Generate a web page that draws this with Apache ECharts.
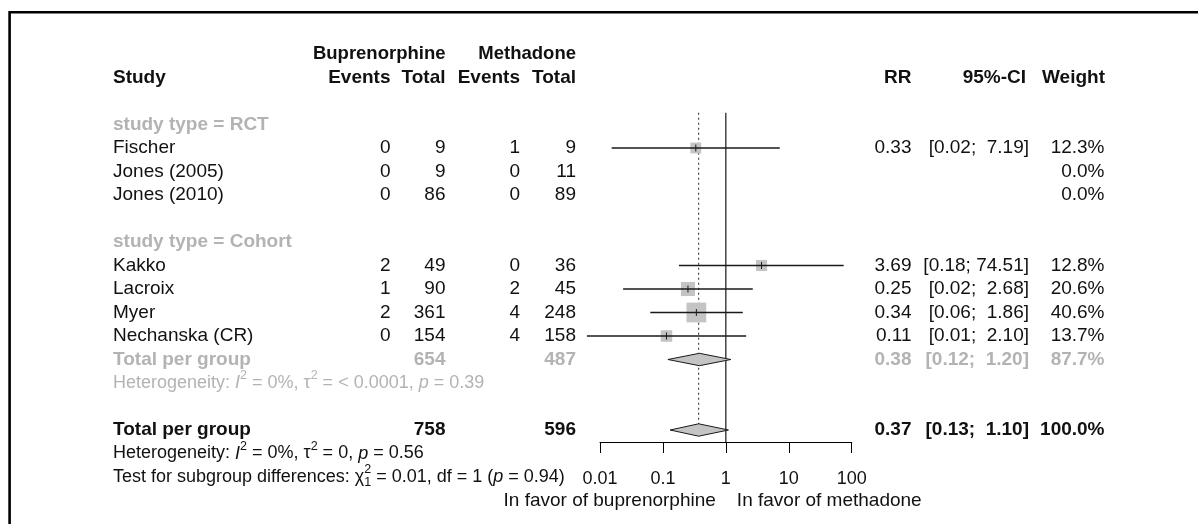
<!DOCTYPE html>
<html>
<head>
<meta charset="utf-8">
<script src="https://cdn.jsdelivr.net/npm/echarts@6/dist/echarts.min.js"></script>
<style>
  html, body { margin: 0; padding: 0; background: #ffffff; }
  #chart { width: 1198px; height: 524px; }
</style>
</head>
<body>
<div id="chart"></div>
<script>
// ---- Study-level data -------------------------------------------------
const studies    = ['Fischer', 'Jones (2005)', 'Jones (2010)', 'Kakko', 'Lacroix', 'Myer', 'Nechanska (CR)'];
const studyType  = ['RCT', 'RCT', 'RCT', 'Cohort', 'Cohort', 'Cohort', 'Cohort'];
const bupEvents  = [0, 0, 0, 2, 1, 2, 0];
const bupTotal   = [9, 9, 86, 49, 90, 361, 154];
const metEvents  = [1, 0, 0, 0, 2, 4, 4];
const metTotal   = [9, 11, 89, 36, 45, 248, 158];
const riskRatio  = [0.333, null, null, 3.69, 0.25, 0.34, 0.114];
const ciLower    = [0.0153, null, null, 0.18, 0.0233, 0.063, 0.0062];
const ciUpper    = [7.19, null, null, 74.51, 2.68, 1.86, 2.10];
const weightPct  = [12.3, 0.0, 0.0, 12.8, 20.6, 40.6, 13.7];

// ---- Subgroup pooled results (null = not reported) ---------------------
const groupNames   = ['RCT', 'Cohort'];
const groupRR      = [null, 0.38];
const groupLower   = [null, 0.12];
const groupUpper   = [null, 1.20];
const groupWeight  = [null, 87.7];
const groupI2      = [null, '0%'];
const groupTau2    = [null, '< 0.0001'];
const groupHetP    = [null, '0.39'];

// ---- Overall pooled result ---------------------------------------------
const overallRR     = 0.37;
const overallLower  = 0.13;
const overallUpper  = 1.10;
const overallWeight = 100.0;
const overallHet    = ['0%', '0', '0.56'];      // I^2, tau^2, p
const subgroupTest  = ['0.01', '1', '0.94'];    // chi^2, df, p

// ---- Axis ---------------------------------------------------------------
const axisTicks  = [0.01, 0.1, 1, 10, 100];
const favourLeft  = 'In favor of buprenorphine';
const favourRight = 'In favor of methadone';

// ---- Styling -------------------------------------------------------------
const FONT  = "'Liberation Sans', Arial, Helvetica, sans-serif";
const FS    = 19;       // table body
const FSB   = 19;       // bold headings / totals
const FS_ARM = 18.5;    // arm labels above the columns
const FS_STAT = 18;     // heterogeneity / subgroup test lines
const FS_TICK = 18;
const SUPFS = 12.5;
const BLACK = '#111111';
const GRAY  = '#b3b3b3';
const BOX_FILL = '#c4c4c4';
const LINE  = '#1a1a1a';
const BOX_SCALE = 3.1;      // square side per sqrt(weight %)
const DIAMOND_HALF = 6.2;

// column anchors (px)
const COL = { study: 113, bupE: 390.5, bupN: 445.5, metE: 520, metN: 576,
              rr: 911.5, ci: 1029, ciHead: 1026, w: 1104.5, wHead: 1105 };

// ---- Row layout ----------------------------------------------------------
// row 0: arm labels, row 1: column headings, then groups
const studyRows = [];
const groupLabelRows = [];
const groupTotalRows = [];
let row = 3;
groupNames.forEach((g, gi) => {
  groupLabelRows.push(row); row++;
  studies.forEach((s, i) => { if (studyType[i] === g) { studyRows[i] = row; row++; } });
  if (groupRR[gi] !== null) { groupTotalRows[gi] = row; row += 2; } else { groupTotalRows[gi] = null; }
  row++;
});
const overallRow = row;          // pooled total
const overallHetRow = row + 1;
const testRow = row + 2;
const favourRow = row + 3;
const REF_TOP = 2.5;
const Y_MAX = 388 / 23.5;        // row units spanned by the plotting grid

const sum = arr => arr.reduce((a, b) => a + b, 0);
const idxOf = g => studies.map((s, i) => i).filter(i => studyType[i] === g);
const f2 = v => v.toFixed(2);
const upperWidth = Math.max(...ciUpper.filter(v => v !== null).map(v => f2(v).length));
const fmtCI = (lo, hi) => '[' + f2(lo) + '; ' + f2(hi).padStart(upperWidth, ' ') + ']';
const fmtW = w => w.toFixed(1) + '%';

// ---- Text helpers --------------------------------------------------------
const measureCtx = document.createElement('canvas').getContext('2d');
function fontOf(t) {
  const size = t.size || (t.bold ? FSB : FS);
  return (t.italic ? 'italic ' : '') + (t.bold ? 'bold ' : '') + size + 'px ' + FONT;
}
function txt(x, y, text, opts) {
  opts = opts || {};
  return {
    type: 'text', x: x, y: y,
    style: { text: text, font: fontOf(opts), fill: opts.color || BLACK,
             align: opts.align || 'left', verticalAlign: 'middle' }
  };
}
function tokens(x0, y, list, color) {
  let x = x0; const out = [];
  list.forEach(t => {
    const f = fontOf(Object.assign({ size: FS_STAT }, t));
    out.push({ type: 'text', x: x, y: y + (t.dy || 0),
               style: { text: t.text, font: f, fill: color, align: 'left', verticalAlign: 'middle' } });
    measureCtx.font = f;
    if (!t.stack) x += measureCtx.measureText(t.text).width;
  });
  return out;
}
const sup = s => ({ text: s, size: SUPFS, dy: -7 });
const hetTokens = (i2, tau2, p) => [
  { text: 'Heterogeneity: ' }, { text: 'I', italic: true }, sup('2'),
  { text: ' = ' + i2 + ', ' }, { text: '\u03c4' }, sup('2'),
  { text: ' = ' + tau2 + ', ' }, { text: 'p', italic: true }, { text: ' = ' + p }
];

// ---- Data for mark series -------------------------------------------------
const studyMarks = [];
studies.forEach((s, i) => {
  if (riskRatio[i] !== null && weightPct[i] > 0) {
    studyMarks.push([riskRatio[i], ciLower[i], ciUpper[i], weightPct[i], studyRows[i]]);
  }
});
const diamondMarks = [];
groupNames.forEach((g, gi) => {
  if (groupRR[gi] !== null) diamondMarks.push([groupRR[gi], groupLower[gi], groupUpper[gi], groupTotalRows[gi]]);
});
diamondMarks.push([overallRR, overallLower, overallUpper, overallRow]);

const chart = echarts.init(document.getElementById('chart'), null, { renderer: 'canvas' });

const option = {
  animation: false,
  backgroundColor: '#ffffff',
  grid: { left: 600, width: 251.7, top: 54, height: 388 },
  xAxis: {
    type: 'log', logBase: 10, min: axisTicks[0], max: axisTicks[axisTicks.length - 1],
    position: 'bottom',
    axisLine: { show: true, onZero: false, lineStyle: { color: '#000', width: 1 } },
    axisTick: { show: true, length: 11, inside: false, lineStyle: { color: '#000', width: 1 } },
    axisLabel: { show: true, margin: 28, fontSize: FS_TICK, fontFamily: FONT, color: BLACK,
                 formatter: v => String(+(+v).toPrecision(3)) },
    splitLine: { show: false }
  },
  yAxis: { type: 'value', min: 0, max: Y_MAX, inverse: true, show: false },
  graphic: [{
    type: 'polyline', silent: true,
    shape: { points: [[9.6, 540], [9.6, 12.3], [1210, 12.3]] },
    style: { stroke: '#000', lineWidth: 2.6, fill: null }
  }],
  series: [
    {
      // reference line at RR = 1 and dotted line at the pooled estimate
      type: 'custom', clip: false, silent: true, z: 1,
      data: [[1, overallRR]],
      renderItem: (params, api) => {
        const a = api.coord([1, REF_TOP]);
        const b = api.coord([1, Y_MAX]);
        const c = api.coord([overallRR, REF_TOP]);
        const d = api.coord([overallRR, overallRow + 0.27]);
        return { type: 'group', children: [
          { type: 'line', shape: { x1: a[0], y1: a[1], x2: b[0], y2: b[1] },
            style: { stroke: '#000', lineWidth: 1.1 } },
          { type: 'line', shape: { x1: c[0], y1: c[1], x2: d[0], y2: d[1] },
            style: { stroke: '#222', lineWidth: 1, lineDash: [2, 3] } }
        ] };
      }
    },
    {
      // study squares with confidence intervals
      type: 'custom', clip: false, silent: true, z: 3,
      data: studyMarks,
      renderItem: (params, api) => {
        const est = api.value(0), lo = api.value(1), hi = api.value(2), w = api.value(3), r = api.value(4);
        const c = api.coord([est, r]);
        const pl = api.coord([lo, r]);
        const ph = api.coord([hi, r]);
        const side = BOX_SCALE * Math.sqrt(w);
        return { type: 'group', children: [
          { type: 'rect', shape: { x: c[0] - side / 2, y: c[1] - side / 2, width: side, height: side },
            style: { fill: BOX_FILL } },
          { type: 'line', shape: { x1: pl[0], y1: pl[1], x2: ph[0], y2: ph[1] },
            style: { stroke: LINE, lineWidth: 1.3 } },
          { type: 'line', shape: { x1: c[0], y1: c[1] - 3.5, x2: c[0], y2: c[1] + 3.5 },
            style: { stroke: LINE, lineWidth: 1 } }
        ] };
      }
    },
    {
      // pooled diamonds
      type: 'custom', clip: false, silent: true, z: 4,
      data: diamondMarks,
      renderItem: (params, api) => {
        const est = api.value(0), lo = api.value(1), hi = api.value(2), r = api.value(3);
        const c = api.coord([est, r]);
        const pl = api.coord([lo, r]);
        const ph = api.coord([hi, r]);
        return { type: 'polygon',
          shape: { points: [[pl[0], c[1]], [c[0], c[1] - DIAMOND_HALF], [ph[0], c[1]], [c[0], c[1] + DIAMOND_HALF]] },
          style: { fill: BOX_FILL, stroke: LINE, lineWidth: 1 } };
      }
    },
    {
      // table text
      type: 'custom', clip: false, silent: true, z: 5,
      data: [[1, 0]],
      renderItem: (params, api) => {
        const Y = r => api.coord([1, r])[1];
        const out = [];
        const B = { bold: true };
        const BR = { bold: true, align: 'right' };
        // column headings
        out.push(txt(COL.bupN, Y(0), 'Buprenorphine', { bold: true, align: 'right', size: FS_ARM }));
        out.push(txt(COL.metN, Y(0), 'Methadone', { bold: true, align: 'right', size: FS_ARM }));
        out.push(txt(COL.study, Y(1), 'Study', B));
        out.push(txt(COL.bupE, Y(1), 'Events', BR));
        out.push(txt(COL.bupN, Y(1), 'Total', BR));
        out.push(txt(COL.metE, Y(1), 'Events', BR));
        out.push(txt(COL.metN, Y(1), 'Total', BR));
        out.push(txt(COL.rr, Y(1), 'RR', BR));
        out.push(txt(COL.ciHead, Y(1), '95%-CI', BR));
        out.push(txt(COL.wHead, Y(1), 'Weight', BR));

        groupNames.forEach((g, gi) => {
          out.push(txt(COL.study, Y(groupLabelRows[gi]), 'study type = ' + g, { bold: true, color: GRAY }));
          idxOf(g).forEach(i => {
            const y = Y(studyRows[i]);
            out.push(txt(COL.study, y, studies[i]));
            out.push(txt(COL.bupE, y, String(bupEvents[i]), { align: 'right' }));
            out.push(txt(COL.bupN, y, String(bupTotal[i]), { align: 'right' }));
            out.push(txt(COL.metE, y, String(metEvents[i]), { align: 'right' }));
            out.push(txt(COL.metN, y, String(metTotal[i]), { align: 'right' }));
            if (riskRatio[i] !== null) {
              out.push(txt(COL.rr, y, f2(riskRatio[i]), { align: 'right' }));
              out.push(txt(COL.ci, y, fmtCI(ciLower[i], ciUpper[i]), { align: 'right' }));
            }
            out.push(txt(COL.w, y, fmtW(weightPct[i]), { align: 'right' }));
          });
          if (groupRR[gi] !== null) {
            const y = Y(groupTotalRows[gi]);
            const st = { bold: true, color: GRAY, align: 'right' };
            out.push(txt(COL.study, y, 'Total per group', { bold: true, color: GRAY }));
            out.push(txt(COL.bupN, y, String(sum(idxOf(g).map(i => bupTotal[i]))), st));
            out.push(txt(COL.metN, y, String(sum(idxOf(g).map(i => metTotal[i]))), st));
            out.push(txt(COL.rr, y, f2(groupRR[gi]), st));
            out.push(txt(COL.ci, y, fmtCI(groupLower[gi], groupUpper[gi]), st));
            out.push(txt(COL.w, y, fmtW(groupWeight[gi]), st));
            tokens(COL.study, Y(groupTotalRows[gi] + 1),
                   hetTokens(groupI2[gi], groupTau2[gi], groupHetP[gi]), GRAY).forEach(e => out.push(e));
          }
        });

        // overall
        const yo = Y(overallRow);
        out.push(txt(COL.study, yo, 'Total per group', B));
        out.push(txt(COL.bupN, yo, String(sum(bupTotal)), BR));
        out.push(txt(COL.metN, yo, String(sum(metTotal)), BR));
        out.push(txt(COL.rr, yo, f2(overallRR), BR));
        out.push(txt(COL.ci, yo, fmtCI(overallLower, overallUpper), BR));
        out.push(txt(COL.w, yo, fmtW(overallWeight), BR));
        tokens(COL.study, Y(overallHetRow),
               hetTokens(overallHet[0], overallHet[1], overallHet[2]), BLACK).forEach(e => out.push(e));
        tokens(COL.study, Y(testRow), [
          { text: 'Test for subgroup differences: ' }, { text: '\u03c7' },
          { text: '2', size: SUPFS, dy: -7, stack: true }, { text: '1', size: SUPFS, dy: 6 },
          { text: ' = ' + subgroupTest[0] + ', df = ' + subgroupTest[1] + ' (' },
          { text: 'p', italic: true }, { text: ' = ' + subgroupTest[2] + ')' }
        ], BLACK).forEach(e => out.push(e));

        // favour labels either side of RR = 1
        const x1 = api.coord([1, 0])[0];
        out.push(txt(x1 - 10, Y(favourRow), favourLeft, { align: 'right' }));
        out.push(txt(x1 + 11, Y(favourRow), favourRight, { align: 'left' }));
        return { type: 'group', children: out };
      }
    }
  ]
};

chart.setOption(option);
</script>
</body>
</html>
